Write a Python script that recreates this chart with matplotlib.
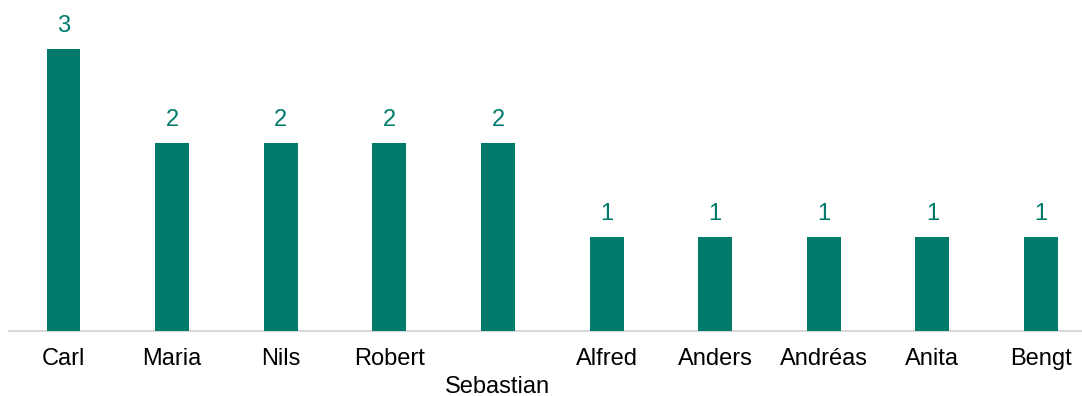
import matplotlib
matplotlib.use("Agg")
import matplotlib.pyplot as plt

names = ["Carl", "Maria", "Nils", "Robert", "Sebastian",
         "Alfred", "Anders", "Andréas", "Anita", "Bengt"]
counts = [3, 2, 2, 2, 2, 1, 1, 1, 1, 1]

teal = "#007B6B"
plt.rcParams['font.family'] = ['Liberation Sans', 'DejaVu Sans']
FS = 17

W, H = 1082, 396
fig = plt.figure(figsize=(W / 100, H / 100), dpi=100)
slot = (1041 - 63.5) / 9
left_px = 63.5 - slot / 2
right_px = 1041 + slot / 2
base_px = 331
unit_px = 94
top_px = 0
ax = fig.add_axes([left_px / W, (H - base_px) / H,
                   (right_px - left_px) / W, (base_px - top_px) / H])

x = list(range(len(names)))
ax.bar(x, counts, width=0.313, color=teal, zorder=2)
ax.set_xlim(-0.5, len(names) - 0.5)
ax.set_ylim(0, (base_px - top_px) / unit_px)

for xi, v in zip(x, counts):
    ax.annotate(str(v), (xi, v), xytext=(0, 9), textcoords="offset points",
                ha="center", va="bottom", fontsize=FS, color=teal)

labels = list(names)
labels[4] = "\n" + names[4]
ax.set_xticks(x)
ax.set_xticklabels(labels, fontsize=FS, color="#000000")
ax.get_xticklabels()[4].set_linespacing(1.37)
ax.tick_params(axis="x", length=0, pad=12)
ax.set_yticks([])
for s in ["left", "right", "top"]:
    ax.spines[s].set_visible(False)
ax.spines["bottom"].set_color("#d9d9d9")
ax.spines["bottom"].set_linewidth(1.5)
ax.spines["bottom"].set_zorder(1)

fig.savefig("out.png", dpi=100)
